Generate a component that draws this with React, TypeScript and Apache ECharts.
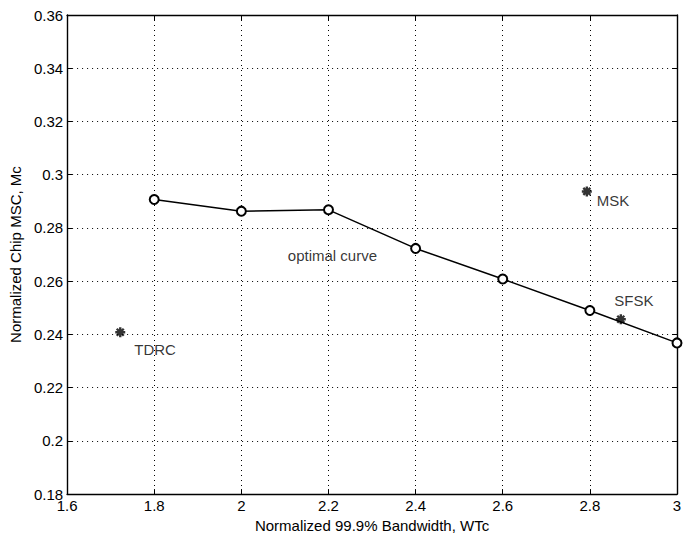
import React, { useEffect, useRef } from "react";
import * as echarts from "echarts";

const bandwidth = [1.8, 2.0, 2.2, 2.4, 2.6, 2.8, 3.0];
const optimalMsc = [0.2907, 0.2863, 0.2868, 0.2723, 0.2608, 0.249, 0.2368];
const schemeNames = ["MSK", "SFSK", "TDRC"];
const schemeBandwidth = [2.793, 2.871, 1.722];
const schemeMsc = [0.2937, 0.2457, 0.2408];
const curveLabel = { name: "optimal curve", x: 2.209, y: 0.2696 };
const xTicks = { min: 1.6, max: 3, interval: 0.2 };
const yTicks = { min: 0.18, max: 0.36, interval: 0.02 };

const starPath =
  "path://M0,-10L0,10M-10,0L10,0M-7,-7L7,7M-7,7L7,-7";

const labelPlacement: Record<string, { offset: number[]; align: string }> = {
  MSK: { offset: [10, 9], align: "left" },
  SFSK: { offset: [13, -19], align: "center" },
  TDRC: { offset: [14, 17], align: "left" },
};

export default function App() {
  const ref = useRef<HTMLDivElement>(null);
  useEffect(() => {
    const chart = echarts.init(ref.current!, null, { renderer: "svg" });
    const font = "'Liberation Sans', Arial, Helvetica, sans-serif";
    const axisCommon = {
      axisLine: { show: true, lineStyle: { color: "#000", width: 1.4 } },
      axisTick: { show: true, inside: true, length: 5, lineStyle: { color: "#000" } },
      splitLine: { show: false },
    };
    chart.setOption({
      animation: false,
      backgroundColor: "#fff",
      textStyle: { fontFamily: font },
      grid: { left: 67, right: 15, top: 15, bottom: 41 },
      xAxis: [
        {
          type: "value",
          ...xTicks,
          name: "Normalized 99.9% Bandwidth, WTc",
          nameLocation: "middle",
          nameGap: 17,
          nameTextStyle: { fontSize: 15, color: "#000", fontFamily: font },
          ...axisCommon,
          splitLine: { show: true, lineStyle: { color: "#000", type: [1, 4], width: 1 } },
          axisLabel: { fontSize: 15, color: "#000", margin: 4, fontFamily: font },
        },
        {
          type: "value",
          position: "top",
          ...xTicks,
          ...axisCommon,
          axisLabel: { show: false },
        },
      ],
      yAxis: [
        {
          type: "value",
          ...yTicks,
          name: "Normalized Chip MSC, Mc",
          nameLocation: "middle",
          nameGap: 41,
          nameTextStyle: { fontSize: 15, color: "#000", fontFamily: font },
          ...axisCommon,
          splitLine: { show: true, lineStyle: { color: "#000", type: [1, 4], width: 1 } },
          axisLabel: { fontSize: 15, color: "#000", margin: 4, fontFamily: font },
        },
        {
          type: "value",
          position: "right",
          ...yTicks,
          ...axisCommon,
          axisLabel: { show: false },
        },
      ],
      series: [
        {
          type: "line",
          data: bandwidth.map((b, i) => [b, optimalMsc[i]]),
          symbol: "emptyCircle",
          symbolSize: 9,
          lineStyle: { color: "#000", width: 1.5 },
          itemStyle: { color: "#000", borderColor: "#000", borderWidth: 1.4 },
          z: 3,
        },
        {
          type: "scatter",
          data: schemeNames.map((n, i) => ({
            name: n,
            value: [schemeBandwidth[i], schemeMsc[i]],
            label: {
              show: true,
              formatter: n,
              position: "inside",
              align: labelPlacement[n].align,
              verticalAlign: "middle",
              offset: labelPlacement[n].offset,
              fontSize: 15,
              color: "#000",
              fontFamily: font,
            },
          })),
          symbol: starPath,
          symbolSize: 10,
          itemStyle: { color: "#000", borderColor: "#000", borderWidth: 2.4 },
          z: 4,
        },
        {
          type: "scatter",
          data: [
            {
              name: curveLabel.name,
              value: [curveLabel.x, curveLabel.y],
              label: {
                show: true,
                formatter: curveLabel.name,
                position: "inside",
                align: "center",
                verticalAlign: "middle",
                fontSize: 15,
                color: "#000",
                fontFamily: font,
              },
            },
          ],
          symbolSize: 1,
          itemStyle: { color: "transparent" },
        },
      ],
    });
    return () => chart.dispose();
  }, []);
  return (
    <div
      ref={ref}
      style={{ position: "absolute", left: 0, top: 0, width: 692, height: 538 }}
    />
  );
}
